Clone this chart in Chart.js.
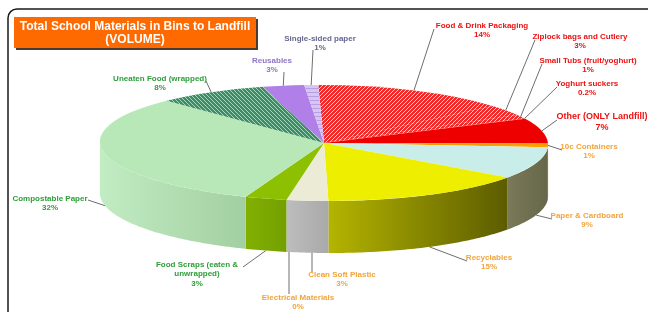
<!DOCTYPE html>
<html><head><meta charset="utf-8">
<script src="https://cdn.jsdelivr.net/npm/chart.js@4/dist/chart.umd.min.js"></script>
<style>html,body{margin:0;padding:0;background:#fff;overflow:hidden}canvas{display:block}</style>
</head><body>
<canvas id="c" width="648" height="312"></canvas>
<script>
// ---- data ----
const categories = ["Food & Drink Packaging","Ziplock bags and Cutlery","Small Tubs (fruit/yoghurt)","Yoghurt suckers","Other (ONLY Landfill)","10c Containers","Paper & Cardboard","Recyclables","Clean Soft Plastic","Electrical Materials","Food Scraps (eaten & unwrapped)","Compostable Paper","Uneaten Food (wrapped)","Reusables","Single-sided paper"];
const values = [14,3,1,0.2,7,1,9,15,3,0,3,32,8,3,1];
const percentLabels = ["14%","3%","1%","0.2%","7%","1%","9%","15%","3%","0%","3%","32%","8%","3%","1%"];
const titleLines = ["Total School Materials in Bins to Landfill","(VOLUME)"];

// ---- style / layout ----
const PIE = {cx:323, cy:143, rx:224, ry:58, depth:52, skew:0.1, shift:1};
const RED='#ee1111', ORG='#f2a43a', GRN='#2e9e3a', PUR='#8f75c8', GPU='#66668f';
const labelColors = [RED,RED,RED,RED,RED,ORG,ORG,ORG,ORG,ORG,GRN,GRN,GRN,PUR,GPU];
const labelWrap = {10:["Food Scraps (eaten &","unwrapped)"]};
const labelSize = {4:9};
// [centerX, firstLineY, leaderStartX, leaderStartY, vertical]
const labelLayout = [
 [482,26,434,29],[580,37,535,40],[588,61,542,64],[587,84,557,87],[602,117,557,120],
 [589,147,562,150],[587,216,552,219],[489,258,467,261],[342,275,312,272,1],[298,298,289,294,1],
 [197,265,243,267],[50,199,88,200],[160,79,206,81],[272,61,284,72],[320,39,313,50]
];
const sideColors = [
 ['#b01010','#a00808'],['#b01010','#a00808'],['#b01010','#a00808'],['#b01010','#a00808'],['#b00000','#a00000'],
 ['#c08000','#a07000'],['#7a7a58','#66664a'],['#b4b400','#5c5c00'],['#bdbdbd','#a9a9a9'],['#aaaaaa','#aaaaaa'],
 ['#82b000','#74a000'],['#c2ecc2','#a2cfa2'],['#3a7a5a','#3a7a5a'],['#9060c8','#9060c8'],['#c0a8e0','#c0a8e0']
];

function hatch(base, line, kind){
  const t=document.createElement('canvas'); t.width=4; t.height=4;
  const g=t.getContext('2d'); g.fillStyle=base; g.fillRect(0,0,4,4); g.fillStyle=line;
  if(kind==='/'){ for(let i=0;i<4;i++) g.fillRect(i,3-i,1,1); }
  else if(kind==='\\'){ for(let i=0;i<4;i++) g.fillRect(i,i,1,1); }
  else { g.fillRect(0,0,4,1); }
  return g.createPattern(t,'repeat');
}
const redH = hatch('#ee2a2a','#ffc8c8','/');
const grnH = hatch('#3f8c68','#a6d6ba','\\');
const purH = hatch('#d8c6f2','#b89ee2','-');
const patterns=[redH,grnH,purH];
const topColors = [redH,redH,redH,redH,'#ee0000','#ffa000','#c9eeea','#eeee00','#ececd6','#bbbbbb','#8cc000','#b8e8b8',grnH,'#b07fe8',purH];

function P(theta, dz){
  const {cx,cy,rx,ry,skew,shift}=PIE;
  return [cx+shift+rx*Math.cos(theta)+skew*ry*Math.sin(theta), cy+ry*Math.sin(theta)+dz];
}

const sidePlugin = {
  id:'pie3d',
  beforeDatasetsDraw(chart){
    const ctx=chart.ctx, arcs=chart.getDatasetMeta(0).data;
    const {cx,cy,rx,ry,depth,skew,shift}=PIE;
    const th0=Math.atan2(skew*ry,rx);
    ctx.save();
    arcs.forEach((arc,i)=>{
      const s=arc.startAngle, e=arc.endAngle;
      if(!(e-s>0)) return;
      for(const off of [-2*Math.PI,0,2*Math.PI]){
        const a=Math.max(s+off,th0), b=Math.min(e+off,Math.PI+th0);
        if(b>a){
          const n=Math.max(2,Math.ceil((b-a)*60));
          const top=[],bot=[];
          for(let k=0;k<=n;k++){const t=a+(b-a)*k/n; top.push(P(t,0)); bot.push(P(t,depth));}
          const xr=top[0][0], xl=top[n][0];
          const g=ctx.createLinearGradient(xl,0,Math.max(xr,xl+1),0);
          g.addColorStop(0,sideColors[i][0]); g.addColorStop(1,sideColors[i][1]);
          ctx.fillStyle=g;
          ctx.beginPath();
          top.forEach((p,k)=>k?ctx.lineTo(p[0],p[1]):ctx.moveTo(p[0],p[1]));
          for(let k=n;k>=0;k--) ctx.lineTo(bot[k][0],bot[k][1]);
          ctx.closePath(); ctx.fill();
        }
      }
    });
    const a0=arcs[0], r0=a0.outerRadius;
    const A=rx/r0, C=skew*ry/r0, D=ry/r0;
    const E=cx+shift-a0.x*A-a0.y*C, F=cy-a0.y*D;
    const m=new DOMMatrix([A,0,C,D,E,F]);
    const inv=m.inverse();
    patterns.forEach(p=>p.setTransform(inv));
    ctx.setTransform(A,0,C,D,E,F);
  },
  afterDatasetsDraw(chart){ chart.ctx.restore(); },
  afterDraw(chart){
    const ctx=chart.ctx, arcs=chart.getDatasetMeta(0).data;
    const {depth}=PIE;
    ctx.save();
    // border
    ctx.strokeStyle='#1a1a1a'; ctx.lineWidth=1.5;
    ctx.beginPath(); ctx.moveTo(8,330); ctx.lineTo(8,18); ctx.arcTo(8,9,17,9,9); ctx.lineTo(660,9); ctx.stroke();
    // title box
    ctx.fillStyle='#4a3a30'; ctx.fillRect(16,19,242,31);
    ctx.fillStyle='#ff6a00'; ctx.fillRect(14,17,242,31);
    ctx.fillStyle='#ffffff'; ctx.textAlign='center'; ctx.textBaseline='middle';
    ctx.font="bold 12px 'Liberation Sans', Arial, sans-serif";
    ctx.fillText(titleLines[0],135,26.5);
    ctx.fillText(titleLines[1],135,40);
    // labels
    arcs.forEach((arc,i)=>{
      const L=labelLayout[i];
      const mid=(arc.startAngle+arc.endAngle)/2;
      let [ax,ay]=P(mid, Math.sin(mid)>0.15?depth:0);
      if(L[4]){ ax=L[2]; }
      ctx.strokeStyle='#6e6e6e'; ctx.lineWidth=1;
      ctx.beginPath(); ctx.moveTo(L[2],L[3]); ctx.lineTo(ax,ay); ctx.stroke();
      const fs=labelSize[i]||8;
      ctx.font="bold "+fs+"px 'Liberation Sans', Arial, sans-serif";
      ctx.fillStyle=labelColors[i];
      const lines=(labelWrap[i]||[categories[i]]).concat([percentLabels[i]]);
      const lh=fs+1.2;
      lines.forEach((t,k)=>ctx.fillText(t,L[0],L[1]+k*lh));
    });
    ctx.restore();
  }
};

new Chart(document.getElementById('c'),{
  type:'pie',
  data:{labels:categories,datasets:[{data:values,backgroundColor:topColors,borderWidth:0,clip:false}]},
  options:{responsive:false,animation:false,devicePixelRatio:1,events:[],
    layout:{padding:20},
    plugins:{legend:{display:false},tooltip:{enabled:false},title:{display:false}}},
  plugins:[sidePlugin]
});
</script>
</body></html>
